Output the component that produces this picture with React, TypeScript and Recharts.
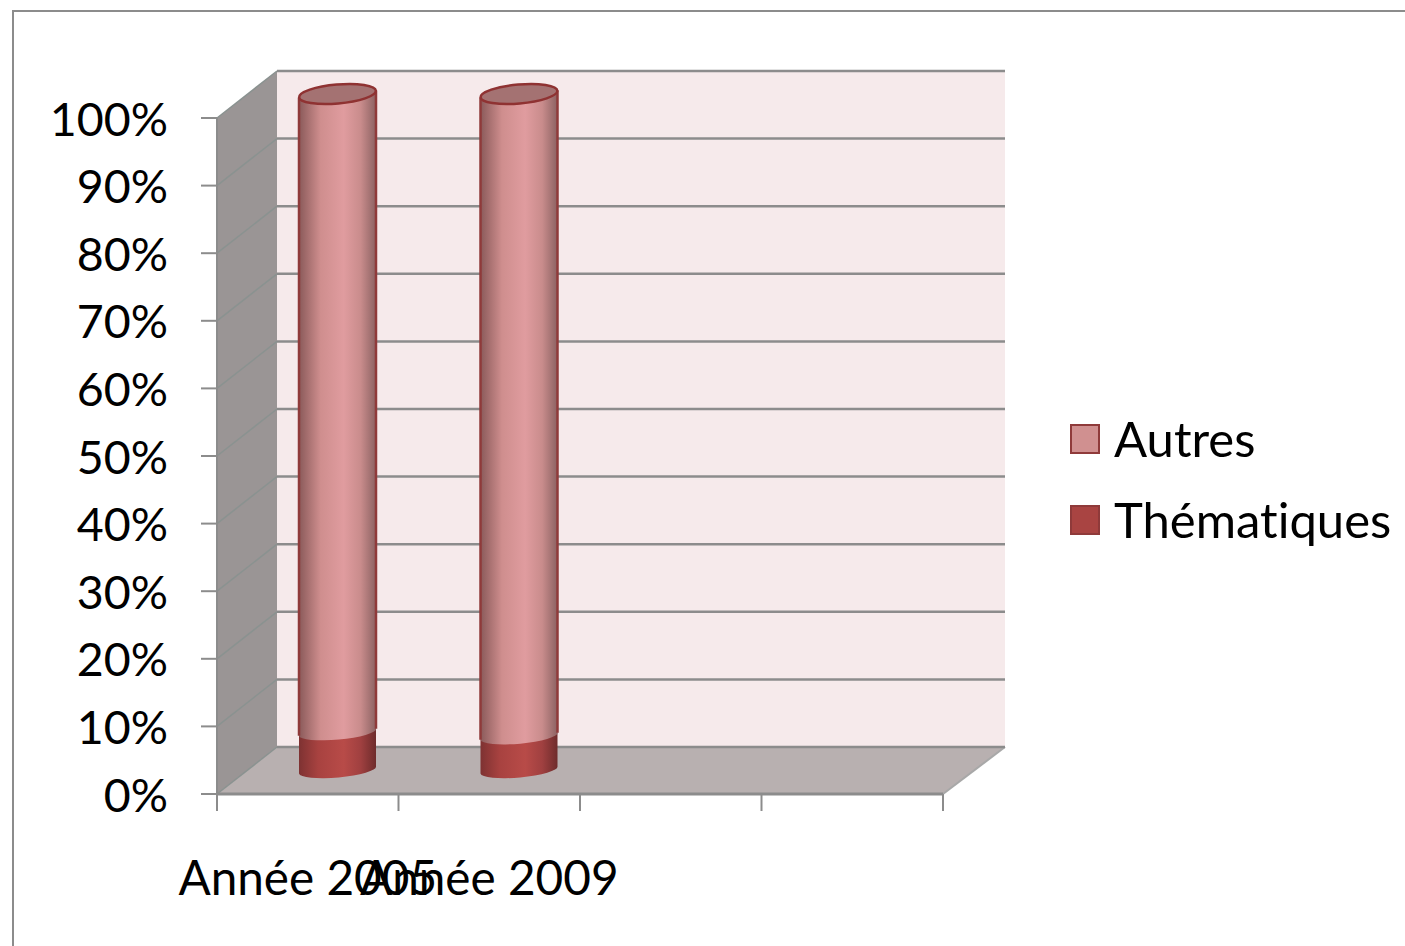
import { BarChart, Bar, XAxis, YAxis, CartesianGrid, Legend, usePlotArea } from 'recharts';

const categories = ['Année 2005', 'Année 2009', '', ''];
const thematiques = [5.6, 5, 0, 0];
const autres = [94.4, 95, 0, 0];
const yTicks = [0, 10, 20, 30, 40, 50, 60, 70, 80, 90, 100];

const data = categories.map((name, i) => ({ name, thematiques: thematiques[i], autres: autres[i] }));

const FONT = 'Lato, sans-serif';
const GREY = '#8c8c8c';
// fake 3d depth, in px
const DX = 60;
const DY = 47;
const TILT = 3.5;

function Walls() {
  const p = usePlotArea();
  if (!p) return null;
  const l = p.x;
  const r = p.x + p.width;
  const t = p.y;
  const b = p.y + p.height;
  return (
    <g>
      <polygon points={`${l},${t} ${l + DX},${t - DY} ${l + DX},${b - DY} ${l},${b}`} fill='#9a9595' />
      <polygon points={`${l + DX},${t - DY} ${r + DX + 2},${t - DY} ${r + DX + 2},${b - DY} ${l + DX},${b - DY}`} fill='#f6eaeb' />
      <polygon points={`${l},${b} ${l + DX},${b - DY} ${r + DX + 2},${b - DY} ${r},${b}`} fill='#b8b0b0' />
      <line x1={r} y1={b} x2={r + DX + 2} y2={b - DY} stroke='#a8a8a8' strokeWidth={2} />
    </g>
  );
}

// walls go in with the first grid line, otherwise they cover the grid
function gridLine(props: any) {
  const { x1, x2, y1, key, index } = props;
  return (
    <g key={key}>
      {index === 0 && <Walls />}
      <line x1={x1} y1={y1} x2={x1 + DX} y2={y1 - DY} stroke='#8a9290' strokeWidth={1.5} />
      <line x1={x1 + DX} y1={y1 - DY} x2={x2 + DX + 2} y2={y1 - DY} stroke={GREY} strokeWidth={2.5} />
    </g>
  );
}

function cylinder(gradient: string, hasTop: boolean) {
  return (props: any) => {
    const { x, y, width, height } = props;
    if (!height) return <g />;
    const left = x + DX / 2;
    const right = left + width;
    const top = y - 24;
    const bottom = top + height;
    const rx = width / 2;
    const d = `M${left},${top + TILT} L${left},${bottom + TILT} A${rx},7.5 -5 0 0 ${right},${bottom - TILT} L${right},${top - TILT} Z`;
    return (
      <g>
        <path d={d} fill={`url(#${gradient})`} />
        {hasTop && (
          <>
            <line x1={left} y1={top + TILT} x2={left} y2={bottom + TILT} stroke='#8f3a3a' strokeWidth={2.5} />
            <line x1={right} y1={top - TILT} x2={right} y2={bottom - TILT} stroke='#8f3a3a' strokeWidth={2.5} />
            <ellipse cx={left + rx} cy={top} rx={rx} ry={9.5} transform={`rotate(-5 ${left + rx} ${top})`} fill='#a47272' stroke='#8f3232' strokeWidth={2.5} />
          </>
        )}
      </g>
    );
  };
}

function CategoryTick(props: any) {
  const { x, payload, index, width } = props;
  const half = width / categories.length / 2;
  return (
    <g>
      <line x1={x - half} y1={794} x2={x - half} y2={811} stroke={GREY} strokeWidth={2} />
      {index === categories.length - 1 && <line x1={x + half} y1={794} x2={x + half} y2={811} stroke={GREY} strokeWidth={2} />}
      <text x={x} y={895} textAnchor='middle' fontFamily={FONT} fontSize={47.7} fill='#000' style={{ fontVariantLigatures: 'none' }}>{payload.value}</text>
    </g>
  );
}

function LegendBox(props: any) {
  const items = props.payload || [];
  return (
    <div style={{ fontFamily: FONT, fontSize: 49, lineHeight: '81px', color: '#000', fontVariantLigatures: 'none' }}>
      {items.map((it: any) => (
        <div key={it.value} style={{ display: 'flex', alignItems: 'center', height: 81, whiteSpace: 'nowrap' }}>
          <span style={{ width: 26, height: 26, background: it.color, border: '2px solid #8f3a3a', marginRight: 14, flex: 'none' }} />
          <span>{it.value}</span>
        </div>
      ))}
    </div>
  );
}

export default function App() {
  return (
    <div style={{ position: 'absolute', left: 0, top: 0, width: 1405, height: 946, overflow: 'hidden', background: '#fff' }}>
      <div style={{ position: 'absolute', left: 12, top: 10, width: 1500, height: 1100, border: '2px solid #8c8c8c' }} />
      <BarChart
        width={1405}
        height={946}
        data={data}
        barSize={77}
        margin={{ top: 118, right: 462, bottom: 0, left: 17 }}
        style={{ position: 'absolute', left: 0, top: 0 }}
      >
        <defs>
          <linearGradient id='gradAutres' x1='0' y1='0' x2='1' y2='0'>
            <stop offset='0%' stopColor='#8a5a5a' />
            <stop offset='28%' stopColor='#cf8e8e' />
            <stop offset='58%' stopColor='#e09c9f' />
            <stop offset='80%' stopColor='#c98c8c' />
            <stop offset='100%' stopColor='#8c6262' />
          </linearGradient>
          <linearGradient id='gradThem' x1='0' y1='0' x2='1' y2='0'>
            <stop offset='0%' stopColor='#7e3232' />
            <stop offset='25%' stopColor='#a84240' />
            <stop offset='58%' stopColor='#b84b48' />
            <stop offset='80%' stopColor='#a04040' />
            <stop offset='100%' stopColor='#6e2c2c' />
          </linearGradient>
        </defs>
        <CartesianGrid vertical={false} horizontal={gridLine} />
        <XAxis dataKey='name' interval={0} tickLine={false} height={152} tick={CategoryTick} axisLine={{ stroke: GREY, strokeWidth: 3 }} />
        <YAxis
          width={200}
          domain={[0, 100]}
          ticks={yTicks}
          interval={0}
          tickFormatter={(v: number) => `${v}%`}
          tickSize={16}
          tickMargin={33}
          tickLine={{ stroke: GREY, strokeWidth: 2 }}
          axisLine={{ stroke: GREY, strokeWidth: 2 }}
          tick={{ fontFamily: FONT, fontSize: 46.5, fill: '#000', dy: 1 }}
        />
        <Bar dataKey='thematiques' name='Thématiques' stackId='a' fill='#a94442' shape={cylinder('gradThem', false)} isAnimationActive={false} />
        <Bar dataKey='autres' name='Autres' stackId='a' fill='#d09090' shape={cylinder('gradAutres', true)} isAnimationActive={false} />
        <Legend
          layout='vertical'
          align='center'
          verticalAlign='middle'
          content={LegendBox}
          wrapperStyle={{ left: 1070, top: 398, width: 335, height: 162 }}
        />
      </BarChart>
    </div>
  );
}
